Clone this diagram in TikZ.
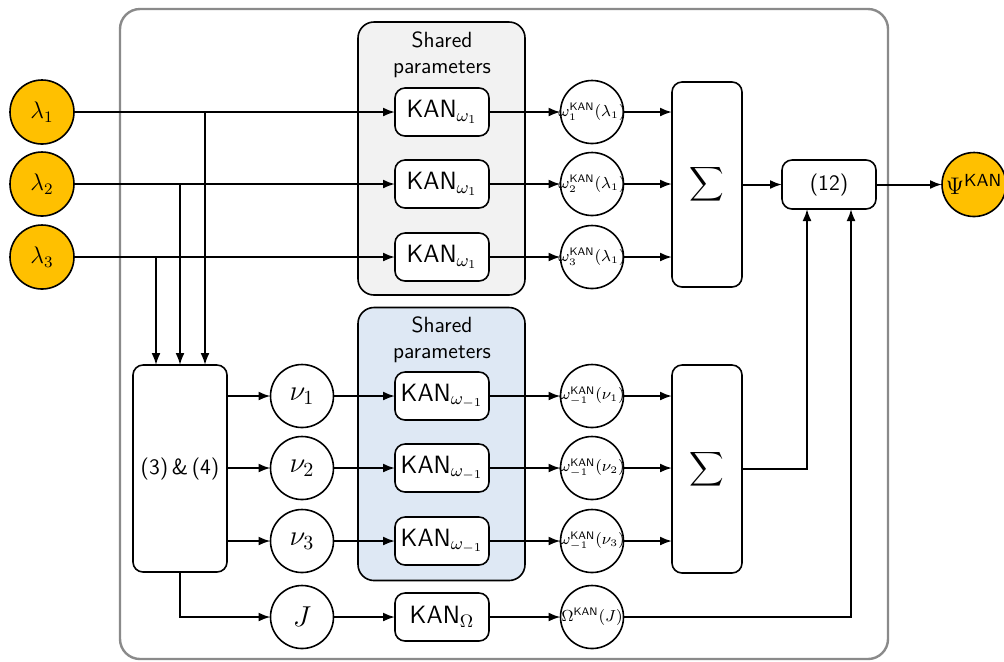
\documentclass[tikz,border=0pt]{standalone}
\usepackage{amsmath}
\usetikzlibrary{arrows.meta}
\definecolor{gold}{HTML}{FFC000}
\definecolor{sharedgray}{HTML}{F2F2F2}
\definecolor{sharedblue}{HTML}{DEE8F4}
\definecolor{framegray}{HTML}{8A8A8A}
\begin{document}
\begin{tikzpicture}[x=0.5pt,y=-0.5pt,
 every node/.style={inner sep=0pt, outer sep=0pt},
 conn/.style={line width=1pt, -{Latex[length=6pt,width=4.5pt]}},
 inp/.style={circle, draw, line width=0.8pt, fill=gold, minimum size=32pt, font=\fontsize{12}{14}\selectfont},
 var/.style={circle, draw, line width=0.8pt, fill=white, minimum size=31.5pt, font=\fontsize{14.4}{16}\selectfont},
 outc/.style={circle, draw, line width=0.8pt, fill=white, minimum size=31.5pt,
   label={[font=\fontsize{7.8}{10}\selectfont]center:#1}},
 kan/.style={rectangle, rounded corners=5pt, draw, line width=0.8pt, fill=white, minimum width=47pt, minimum height=24pt, font=\sffamily\fontsize{12.5}{14}\selectfont},
 tall/.style={rectangle, rounded corners=5pt, draw, line width=0.8pt, fill=white},
 grp/.style={rectangle, rounded corners=8pt, draw, line width=0.8pt, minimum width=83.5pt, minimum height=136.5pt},
 lbl/.style={font=\sffamily\fontsize{11}{13}\selectfont, align=center}
]
\useasboundingbox (0,0) rectangle (1004,661);
\draw[framegray, line width=1.2pt, rounded corners=10pt] (120,9) rectangle (888,659);

% groups
\node[grp, fill=sharedgray] (g1) at (441.5,158.5) {};
\node[grp, fill=sharedblue] (g2) at (441.5,444) {};
\node[lbl] (s1) at (442,55) {Shared\\parameters};
\node[lbl] (s2) at (442,340) {Shared\\parameters};

% inputs
\node[inp] (l1) at (42,112) {$\lambda_1$};
\node[inp] (l2) at (42,184) {$\lambda_2$};
\node[inp] (l3) at (42,257) {$\lambda_3$};

% top KANs
\node[kan] (k1) at (442,112) {KAN$_{\omega_1}$};
\node[kan] (k2) at (442,184) {KAN$_{\omega_1}$};
\node[kan] (k3) at (442,257) {KAN$_{\omega_1}$};

\node[outc={$\omega_1^{\textsf{KAN}}(\lambda_1)$}] (w1) at (592,112) {};
\node[outc={$\omega_2^{\textsf{KAN}}(\lambda_1)$}] (w2) at (592,184) {};
\node[outc={$\omega_3^{\textsf{KAN}}(\lambda_1)$}] (w3) at (592,257) {};

\node[tall, minimum width=35pt, minimum height=102.5pt, font=\fontsize{12}{14}\selectfont] (S1) at (707,184.5) {$\displaystyle\sum$};
\node[kan, minimum height=24.5pt, font=\sffamily\fontsize{11}{13}\selectfont] (P12) at (829,184.5) {(12)};
\node[inp, font=\fontsize{12.5}{14}\selectfont] (psi) at (974,184.5) {$\Psi^{\textsf{KAN}}$};

% lower part
\node[tall, minimum width=47pt, minimum height=103.5pt, font=\sffamily\fontsize{11}{13}\selectfont] (B34) at (180,468.5) {(3)\,\&\,(4)};
\node[var] (n1) at (302,396) {$\nu_1$};
\node[var] (n2) at (302,468) {$\nu_2$};
\node[var] (n3) at (302,541) {$\nu_3$};
\node[var] (J) at (302,617) {$J$};

\node[kan] (m1) at (442,396) {KAN$_{\omega_{-1}}$};
\node[kan] (m2) at (442,468) {KAN$_{\omega_{-1}}$};
\node[kan] (m3) at (442,541) {KAN$_{\omega_{-1}}$};
\node[kan] (mO) at (442,617) {KAN$_{\Omega}$};

\node[outc={$\omega_{-1}^{\textsf{KAN}}(\nu_1)$}] (v1) at (592,396) {};
\node[outc={$\omega_{-1}^{\textsf{KAN}}(\nu_2)$}] (v2) at (592,468) {};
\node[outc={$\omega_{-1}^{\textsf{KAN}}(\nu_3)$}] (v3) at (592,541) {};
\node[outc={$\Omega^{\textsf{KAN}}(J)$}] (vO) at (592,617) {};

\node[tall, minimum width=35pt, minimum height=104pt, font=\fontsize{12}{14}\selectfont] (S2) at (707,469) {$\displaystyle\sum$};

% connections top
\coordinate (d1) at (205,112);
\coordinate (d2) at (180,184);
\coordinate (d3) at (156,257);
\draw[conn] (l1) -- (k1);
\draw[conn] (l2) -- (k2);
\draw[conn] (l3) -- (k3);
\draw[conn] (d1) -- (d1 |- B34.north);
\draw[conn] (d2) -- (d2 |- B34.north);
\draw[conn] (d3) -- (d3 |- B34.north);
\draw[conn] (k1) -- (w1);
\draw[conn] (k2) -- (w2);
\draw[conn] (k3) -- (w3);
\draw[conn] (w1) -- (w1 -| S1.west);
\draw[conn] (w2) -- (w2 -| S1.west);
\draw[conn] (w3) -- (w3 -| S1.west);
\draw[conn] (S1.east) -- (P12.west);
\draw[conn] (P12.east) -- (psi.west);

% connections bottom
\draw[conn] (n1 -| B34.east) -- (n1);
\draw[conn] (n2 -| B34.east) -- (n2);
\draw[conn] (n3 -| B34.east) -- (n3);
\draw[conn] (B34.south) |- (J);
\draw[conn] (n1) -- (m1);
\draw[conn] (n2) -- (m2);
\draw[conn] (n3) -- (m3);
\draw[conn] (J) -- (mO);
\draw[conn] (m1) -- (v1);
\draw[conn] (m2) -- (v2);
\draw[conn] (m3) -- (v3);
\draw[conn] (mO) -- (vO);
\draw[conn] (v1) -- (v1 -| S2.west);
\draw[conn] (v2) -- (v2 -| S2.west);
\draw[conn] (v3) -- (v3 -| S2.west);
\draw[conn] (S2.east) -| ([xshift=-11pt]P12.south);
\draw[conn] (vO) -| ([xshift=11pt]P12.south);
\end{tikzpicture}
\end{document}
